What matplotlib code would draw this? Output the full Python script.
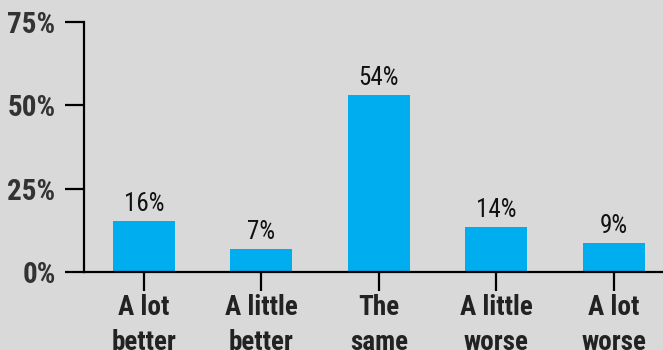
import matplotlib
matplotlib.use("Agg")
import matplotlib.pyplot as plt

# Datos
categorias = ["A lot\nbetter", "A little\nbetter", "The\nsame", "A little\nworse", "A lot\nworse"]
valores = [15.4, 6.9, 53.2, 13.6, 8.8]
etiquetas = ["16%", "7%", "54%", "14%", "9%"]
ticks_y = [0, 25, 50, 75]

fondo = "#d9d9d9"
azul = "#00aeef"

plt.rcParams["font.family"] = ["Roboto Condensed", "DejaVu Sans Condensed", "Roboto", "DejaVu Sans"]

fig = plt.figure(figsize=(6.63, 3.5), dpi=100, facecolor=fondo)
ax = fig.add_axes([0.1267, 0.2229, 0.8733, 0.7142])
ax.set_facecolor(fondo)

x = range(len(categorias))
barras = ax.bar(x, valores, width=0.53, color=azul, zorder=2)

for b, et in zip(barras, etiquetas):
    ax.annotate(et, (b.get_x() + b.get_width() / 2, b.get_height()),
                xytext=(0, 3.5), textcoords="offset points",
                ha="center", va="bottom", fontsize=18, color="#111111")

ax.set_xlim(-0.51, 4.42)
ax.set_ylim(0, 75)
ax.set_yticks(ticks_y)
ax.set_yticklabels([f"{t}%" for t in ticks_y], fontsize=21, fontweight="bold", color="#333333")
ax.set_xticks(list(x))
ax.set_xticklabels(categorias, fontsize=19.5, fontweight="bold", color="#222222", linespacing=1.4)

for s in ["top", "right"]:
    ax.spines[s].set_visible(False)
for s in ["left", "bottom"]:
    ax.spines[s].set_linewidth(1.6)
    ax.spines[s].set_color("black")

ax.tick_params(axis="both", length=13.5, width=1.6, color="black")
ax.tick_params(axis="y", pad=7)
ax.tick_params(axis="x", pad=2)

fig.savefig("out.png", dpi=100, facecolor=fondo)
